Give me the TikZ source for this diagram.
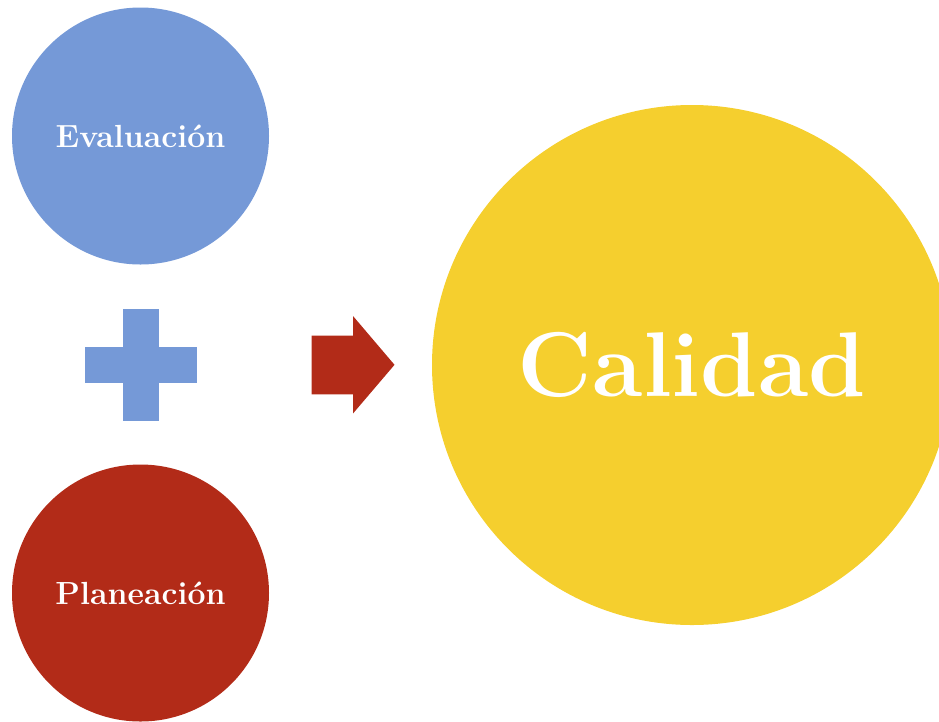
\documentclass[tikz,border=0pt]{standalone}
\usepackage{tikz}
\definecolor{evalblue}{RGB}{117,153,215}
\definecolor{planred}{RGB}{178,43,24}
\definecolor{calyellow}{RGB}{245,207,46}
\tikzset{
  bubble/.style={circle,inner sep=0pt,text=white,font=\bfseries\fontsize{32}{36}\selectfont},
}
\begin{document}
\begin{tikzpicture}[x=1pt,y=-1pt]
\clip(0,0)rectangle(939,721);
\useasboundingbox(0,0)rectangle(939,721);
\node[bubble,fill=evalblue,minimum size=257pt](eval)at(140.5,136){Evaluaci\'on};
\node[bubble,fill=planred,minimum size=257pt](plan)at(140.5,593){Planeaci\'on};
\node[bubble,fill=calyellow,minimum size=520pt,font=\bfseries\fontsize{92}{100}\selectfont](cal)at(692,365){Calidad};
% plus sign
\fill[evalblue](85,347)rectangle(196.5,382.5);
\fill[evalblue](123,309)rectangle(159,420.5);
% block arrow
\fill[planred](311.5,335.5)--(353,335.5)--(353,316)--(394.5,364.8)--(353,413.5)--(353,394.3)--(311.5,394.3)--cycle;
\end{tikzpicture}
\end{document}
